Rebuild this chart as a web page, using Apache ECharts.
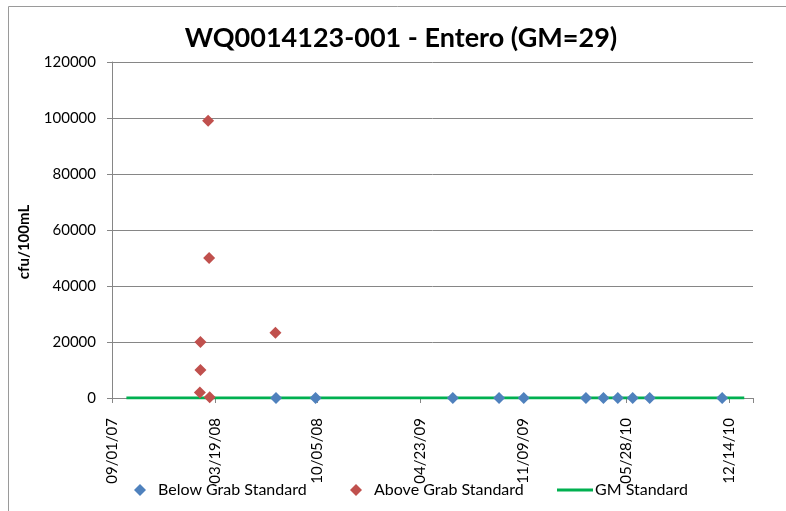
<!DOCTYPE html>
<html>
<head>
<meta charset="utf-8">
<script src="https://cdn.jsdelivr.net/npm/echarts@6/dist/echarts.min.js"></script>
<style>
html,body{margin:0;padding:0;background:#fff;}
#chart{width:786px;height:511px;}
</style>
</head>
<body>
<div id="chart"></div>
<script>
// ---- data ----
const titleText = 'WQ0014123-001 - Entero (GM=29)';
const yAxisName = 'cfu/100mL';
const axisStartDate = '2007-09-01';
const axisEndDays = 1247;
const tickIntervalDays = 200;
const yTicks = [0, 20000, 40000, 60000, 80000, 100000, 120000];

const belowName = 'Below Grab Standard';
const belowDates = ['2008-07-16','2008-10-01','2009-06-25','2009-09-23','2009-11-10','2010-03-11','2010-04-14','2010-05-12','2010-06-10','2010-07-13','2010-12-01'];
const belowValues = [20, 10, 30, 10, 40, 10, 20, 10, 30, 20, 10];

const aboveName = 'Above Grab Standard';
const aboveDates = ['2008-02-19','2008-02-20','2008-02-20','2008-03-06','2008-03-08','2008-03-09','2008-07-15'];
const aboveValues = [2000, 10000, 20000, 99000, 50000, 300, 23300];

const gmName = 'GM Standard';
const gmDates = ['2007-09-29','2011-01-13'];
const gmValues = [35, 35];

// ---- helpers ----
const DAY = 86400000;
const t0 = Date.parse(axisStartDate);
const toDays = d => (Date.parse(d) - t0) / DAY;
const pair = (dates, vals) => dates.map((d, i) => [toDays(d), vals[i]]);
const pad = n => (n < 10 ? '0' : '') + n;
const fmtDate = v => {
  const d = new Date(t0 + v * DAY);
  return pad(d.getUTCMonth() + 1) + '/' + pad(d.getUTCDate()) + '/' + pad(d.getUTCFullYear() % 100);
};

const FONT = 'Lato';
const GRAY = '#868686';
const legendText = {fontFamily: FONT, fontSize: 16, color: '#000', padding: [0,0,0,7]};

const chart = echarts.init(document.getElementById('chart'), null, {renderer: 'canvas'});
chart.setOption({
  animation: false,
  backgroundColor: '#fff',
  title: {
    text: titleText,
    left: 396, top: 20, textAlign: 'center',
    textStyle: {fontFamily: FONT, fontWeight: 'bold', fontSize: 27, color: '#000'}
  },
  graphic: [
    {
      type: 'rect', silent: true, z: -10,
      shape: {x: 8.5, y: 6.5, width: 800, height: 530},
      style: {fill: 'none', stroke: '#9a9a9a', lineWidth: 1}
    },
    {
      type: 'text', silent: true, x: 24, y: 242, rotation: Math.PI / 2,
      style: {text: yAxisName, fill: '#000', font: 'bold 15px Lato', align: 'center', verticalAlign: 'middle'}
    }
  ],
  legend: [
    {data: [belowName], left: 129, top: 477, itemWidth: 12, itemHeight: 12, textStyle: legendText},
    {data: [aboveName], left: 345, top: 477, itemWidth: 12, itemHeight: 12, textStyle: legendText},
    {data: [{name: gmName, icon: 'rect'}], left: 552, top: 477, itemWidth: 36, itemHeight: 3,
     textStyle: {fontFamily: FONT, fontSize: 16, color: '#000', padding: [0,0,0,-3]}}
  ],
  grid: {left: 112, top: 62, right: 33, bottom: 113, containLabel: false},
  xAxis: {
    type: 'value', min: 0, max: axisEndDays, interval: tickIntervalDays,
    axisLine: {show: true, onZero: false, lineStyle: {color: GRAY, width: 1}},
    axisTick: {show: true, inside: false, length: 5, lineStyle: {color: GRAY}},
    splitLine: {show: false},
    axisLabel: {
      rotate: 90, margin: 20, color: '#000', fontFamily: FONT, fontSize: 15,
      formatter: v => (v % tickIntervalDays === 0 ? fmtDate(v) : '')
    }
  },
  yAxis: {
    type: 'value', min: yTicks[0], max: yTicks[yTicks.length - 1],
    interval: yTicks[1] - yTicks[0],
    axisLine: {show: true, lineStyle: {color: GRAY, width: 1}},
    axisTick: {show: true, inside: false, length: 5, lineStyle: {color: GRAY}},
    splitLine: {show: true, lineStyle: {color: GRAY, width: 1}},
    axisLabel: {margin: 16, color: '#000', fontFamily: FONT, fontSize: 15, formatter: v => String(v)}
  },
  series: [
    {
      name: belowName, type: 'scatter', symbol: 'diamond', symbolSize: 12, z: 5,
      itemStyle: {color: '#4F81BD', opacity: 1},
      data: pair(belowDates, belowValues)
    },
    {
      name: aboveName, type: 'scatter', symbol: 'diamond', symbolSize: 12, z: 5,
      itemStyle: {color: '#C0504D', opacity: 1},
      data: pair(aboveDates, aboveValues)
    },
    {
      name: gmName, type: 'line', symbol: 'none', z: 3,
      lineStyle: {color: '#00B050', width: 3},
      itemStyle: {color: '#00B050'},
      data: pair(gmDates, gmValues)
    }
  ]
});
</script>
</body>
</html>
